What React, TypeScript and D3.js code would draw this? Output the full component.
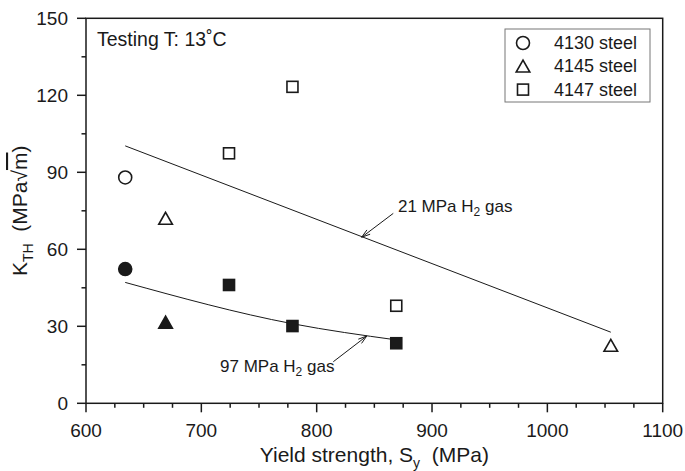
import React from "react";
import * as d3 from "d3";

// Threshold stress intensity vs. yield strength for three Cr-Mo steels
const steels = ["4130 steel", "4145 steel", "4147 steel"];
const steelShape = ["circle", "triangle", "square"];

// 21 MPa H2 gas (open symbols)
const yieldOpen = [634, 669, 724, 779, 869, 1055];
const kOpen = [88, 72, 97.4, 123.3, 38, 22.5];
const steelOpen = [0, 1, 2, 2, 2, 1];

// 97 MPa H2 gas (filled symbols)
const yieldFilled = [634, 669, 724, 779, 869];
const kFilled = [52.3, 31.5, 46.1, 30.1, 23.4];
const steelFilled = [0, 1, 2, 2, 2];

// Trend lines
const trend21Yield = [634, 1055];
const trend21K = [100.3, 27.7];
const trend97Yield = [634, 779, 869];
const trend97K = [47.1, 31.0, 24.7];

const xTicks = [600, 700, 800, 900, 1000, 1100];
const yTicks = [0, 30, 60, 90, 120, 150];

const W = 685;
const H = 471;
const left = 86;
const right = 662.7;
const top = 18.3;
const bottom = 403.3;
const FONT = "Liberation Sans, Arial, Helvetica, sans-serif";
const INK = "#1a1a1a";

const x = d3.scaleLinear().domain([600, 1100]).range([left, right]);
const y = d3.scaleLinear().domain([0, 150]).range([bottom, top]);

function Marker({ shape, cx, cy, filled }: { shape: string; cx: number; cy: number; filled: boolean }) {
  const fill = filled ? INK : "#fff";
  const sw = 1.6;
  if (shape === "circle") {
    return <circle cx={cx} cy={cy} r={6.5} fill={fill} stroke={INK} strokeWidth={sw} />;
  }
  if (shape === "square") {
    const s = 11;
    return <rect x={cx - s / 2} y={cy - s / 2} width={s} height={s} fill={fill} stroke={INK} strokeWidth={sw} />;
  }
  const hw = 6.8;
  const h = 11.5;
  const pts = `${cx},${cy - h / 2 - 0.5} ${cx - hw},${cy + h / 2} ${cx + hw},${cy + h / 2}`;
  return <polygon points={pts} fill={fill} stroke={INK} strokeWidth={sw} strokeLinejoin="miter" />;
}

function Arrow({ x1, y1, x2, y2 }: { x1: number; y1: number; x2: number; y2: number }) {
  const ang = Math.atan2(y2 - y1, x2 - x1);
  const len = 9;
  const spread = 0.3;
  const a1 = ang + Math.PI - spread;
  const a2 = ang + Math.PI + spread;
  return (
    <g stroke={INK} strokeWidth={1} fill="none">
      <line x1={x1} y1={y1} x2={x2} y2={y2} />
      <line x1={x2} y1={y2} x2={x2 + len * Math.cos(a1)} y2={y2 + len * Math.sin(a1)} />
      <line x1={x2} y1={y2} x2={x2 + len * Math.cos(a2)} y2={y2 + len * Math.sin(a2)} />
    </g>
  );
}

export default function App() {
  const lineGen = d3
    .line<number>()
    .x((_, i) => x(trend21Yield[i]))
    .y((d) => y(d));
  const curveGen = d3
    .line<number>()
    .x((_, i) => x(trend97Yield[i]))
    .y((d) => y(d))
    .curve(d3.curveMonotoneX);

  const xMinor = d3.range(600, 1100.1, 25).filter((v) => !xTicks.includes(v));
  const yMinor = d3.range(0, 150.1, 15).filter((v) => !yTicks.includes(v));

  return (
    <svg
      width={W}
      height={H}
      style={{ position: "absolute", left: 0, top: 0, background: "#fff" }}
      fontFamily={FONT}
    >
      <rect x={0} y={0} width={W} height={H} fill="#fff" />

      {/* frame */}
      <rect x={left} y={top} width={right - left} height={bottom - top} fill="none" stroke={INK} strokeWidth={1.5} />

      {/* x axis ticks */}
      {xTicks.map((v) => (
        <g key={"xt" + v}>
          <line x1={x(v)} x2={x(v)} y1={bottom} y2={bottom + 9} stroke={INK} strokeWidth={1.5} />
          <text x={x(v)} y={bottom + 34} textAnchor="middle" fontSize={19} fill={INK}>
            {v}
          </text>
        </g>
      ))}
      {xMinor.map((v) => (
        <line key={"xm" + v} x1={x(v)} x2={x(v)} y1={bottom} y2={bottom + 4.5} stroke={INK} strokeWidth={1.5} />
      ))}

      {/* y axis ticks */}
      {yTicks.map((v) => (
        <g key={"yt" + v}>
          <line x1={left - 9} x2={left} y1={y(v)} y2={y(v)} stroke={INK} strokeWidth={1.5} />
          <text x={left - 18} y={y(v)} textAnchor="end" dominantBaseline="central" fontSize={19} fill={INK}>
            {v}
          </text>
        </g>
      ))}
      {yMinor.map((v) => (
        <line key={"ym" + v} x1={left - 4.5} x2={left} y1={y(v)} y2={y(v)} stroke={INK} strokeWidth={1.5} />
      ))}

      {/* axis titles */}
      <text x={(left + right) / 2} y={462} textAnchor="middle" fontSize={21} fill={INK}>
        Yield strength, S
        <tspan fontSize={14} dy={6}>y</tspan>
        <tspan dy={-6}>{"\u00a0\u00a0(MPa)"}</tspan>
      </text>
      <text
        transform={`translate(27,${(top + bottom) / 2}) rotate(-90)`}
        textAnchor="middle"
        fontSize={21}
        fill={INK}
      >
        K
        <tspan fontSize={14} dy={6}>TH</tspan>
        <tspan dy={-6}>{"\u00a0\u00a0(MPa\u221a"}</tspan>
        <tspan style={{ textDecoration: "overline" }}>m</tspan>
        <tspan>)</tspan>
      </text>

      {/* trend lines */}
      <path d={lineGen(trend21K) || ""} fill="none" stroke={INK} strokeWidth={1} />
      <path d={curveGen(trend97K) || ""} fill="none" stroke={INK} strokeWidth={1} />

      {/* data */}
      {yieldOpen.map((v, i) => (
        <Marker key={"o" + i} shape={steelShape[steelOpen[i]]} cx={x(v)} cy={y(kOpen[i])} filled={false} />
      ))}
      {yieldFilled.map((v, i) => (
        <Marker key={"f" + i} shape={steelShape[steelFilled[i]]} cx={x(v)} cy={y(kFilled[i])} filled={true} />
      ))}

      {/* annotations */}
      <Arrow x1={x(866.4)} y1={y(74.0)} x2={x(839)} y2={y(64.7)} />
      <text x={x(870.5)} y={y(74.6)} fontSize={17} fill={INK}>
        21 MPa H<tspan fontSize={12} dy={4}>2</tspan>
        <tspan dy={-4}> gas</tspan>
      </text>
      <Arrow x1={x(814.4)} y1={y(16.2)} x2={x(843.4)} y2={y(26.2)} />
      <text x={x(716.2)} y={y(12.3)} fontSize={17} fill={INK}>
        97 MPa H<tspan fontSize={12} dy={4}>2</tspan>
        <tspan dy={-4}> gas</tspan>
      </text>

      <text x={97} y={46} fontSize={19.5} fill={INK}>
        Testing T: 13˚C
      </text>

      {/* legend */}
      <rect x={505} y={29} width={145} height={73} fill="#fff" stroke="#777" strokeWidth={1} />
      {steels.map((s, i) => (
        <g key={s}>
          <Marker shape={steelShape[i]} cx={523} cy={43 + i * 23.3} filled={false} />
          <text x={554} y={43 + i * 23.3} dominantBaseline="central" fontSize={18} fill={INK}>
            {s}
          </text>
        </g>
      ))}
    </svg>
  );
}
